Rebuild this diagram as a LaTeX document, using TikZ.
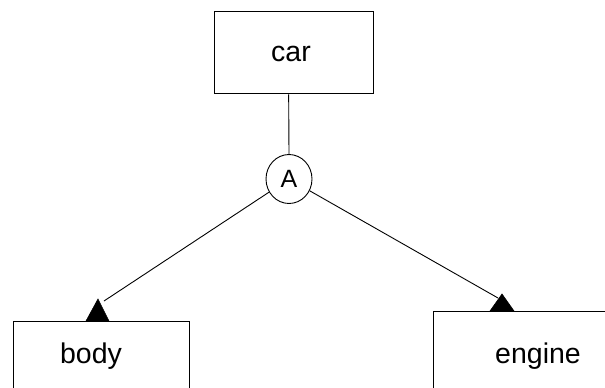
\documentclass[tikz,border=0pt]{standalone}
\usepackage{fontspec}
\setmainfont{Liberation Sans}
\usetikzlibrary{shapes.geometric}
\begin{document}
\begin{tikzpicture}[x=1pt,y=-1pt,
  box/.style={draw,line width=1.3pt,rectangle,inner sep=0pt,anchor=north west},
  lbl/.style={font=\fontsize{28.5}{30}\selectfont,inner sep=0pt},
  link/.style={line width=0.9pt},
  head/.style={fill=black,draw=black,line width=0.6pt}]
\useasboundingbox (0,0) rectangle (605,388);
\clip (0,0) rectangle (605,388);
\fill[white] (0,0) rectangle (605,388);

% decomposition boxes
\node[box,minimum width=159pt,minimum height=82pt] (car) at (214,11) {};
\node[box,minimum width=176pt,minimum height=100pt] (body) at (13,321) {};
\node[box,minimum width=220pt,minimum height=100pt] (engine) at (433,311) {};

% box labels
\node[lbl] (carlbl) at (291,54) {car};
\node[lbl] (bodylbl) at (91,356) {body};
\node[lbl] (enginelbl) at (538,356) {engine};

% AND connector
\node[draw,ellipse,line width=0.9pt,minimum width=46pt,minimum height=49pt,inner sep=0pt,
      font=\fontsize{25}{26}\selectfont] (and) at (289,179) {A};

% arrow tips resting on the box tops
\coordinate (bodytip) at (104,301);
\coordinate (enginetip) at (498,298);
\draw[head] (98,299) -- (109,321) -- (86,321) -- cycle;
\draw[head] (502,294) -- (514,311) -- (490,311) -- cycle;

% connectors
\draw[link] ([xshift=-5.5pt]car.south) -- (and.north);
\draw[link] (and) -- (bodytip);
\draw[link] (and) -- (enginetip);
\end{tikzpicture}
\end{document}
